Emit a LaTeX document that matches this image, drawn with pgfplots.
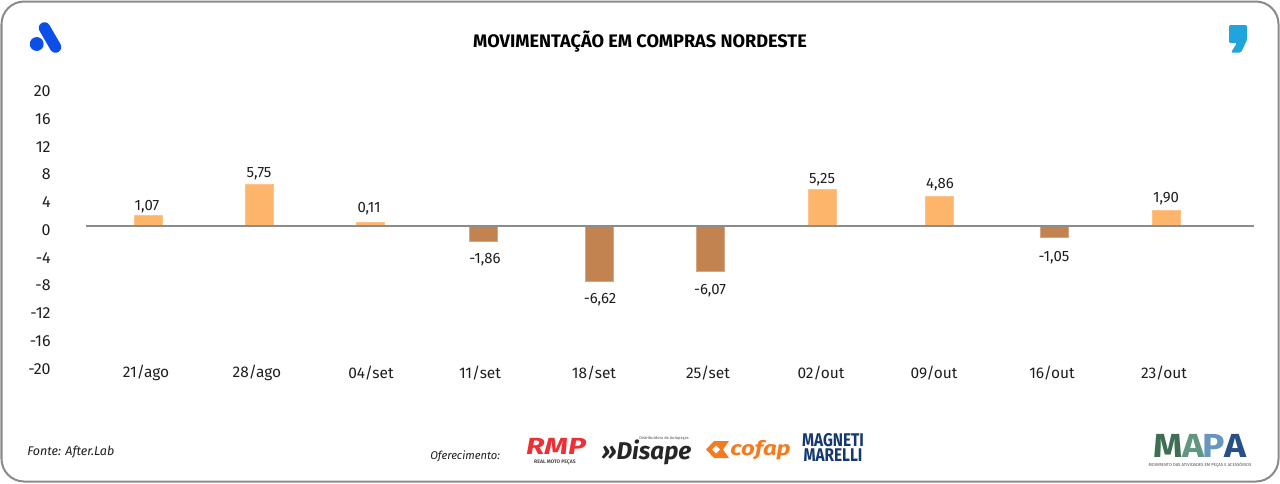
\documentclass[border=0pt]{standalone}
\usepackage{pgfplots}
\pgfplotsset{compat=1.18}
\usepackage{fontspec}
\setmainfont{Fira Sans}
\newfontfamily\heavy{Fira Sans}[UprightFont=* Bold,ItalicFont=* Bold Italic]
\definecolor{barpos}{HTML}{FDB46B}
\definecolor{barneg}{HTML}{C28350}
\definecolor{frame}{HTML}{8A8A8E}
\definecolor{zeroline}{HTML}{8C8C8C}
\definecolor{txt}{HTML}{1E1E1E}
\definecolor{rmpred}{HTML}{EE2F36}
\definecolor{cofap}{HTML}{F47B20}
\definecolor{marelli}{HTML}{14386F}
\definecolor{afterblue}{HTML}{0B4FE8}
\definecolor{quoteblue}{HTML}{1FA4DC}

\begin{document}
\begin{tikzpicture}[x=0.75pt,y=-0.75pt]
\useasboundingbox (0,0) rectangle (1280,483);
\draw[frame,line width=1.5pt,rounded corners=17pt] (1.5,1.5) rectangle (1278.5,481.5);

\begin{axis}[
  at={(64.5pt,-273.75pt)}, anchor=south west,
  scale only axis, width=876pt, height=208.5pt,
  xmin=86, xmax=1254, ymin=-20, ymax=20,
  axis x line=bottom, axis y line=left,
  x axis line style={draw=none,-}, y axis line style={draw=none,-},
  major tick length=0pt,
  xtick={146,257,371,480,594,708,821,934,1052,1164},
  xticklabels={21/ago,28/ago,04/set,11/set,18/set,25/set,02/out,09/out,16/out,23/out},
  ytick={-20,-16,...,20},
  /pgf/number format/assume math mode=true,
  xticklabel style={anchor=center,yshift=-6.2pt,font=\fontsize{11.6}{14}\selectfont,text=txt},
  yticklabel style={anchor=east,xshift=-23pt,yshift=-3pt,font=\fontsize{12}{14}\selectfont,text=txt},
  clip=false,
]
% bars (they do not follow their own labels)
\addplot[ybar,bar width=21pt,bar shift=0pt,fill=barpos,draw=barpos!80!white,line width=0.3pt]
  coordinates {(148,1.55) (259,6.05) (370,0.55) (822,5.3) (939,4.3) (1166,2.3)};
\addplot[ybar,bar width=21pt,bar shift=0pt,fill=barneg,draw=barneg!70!white,line width=0.3pt]
  coordinates {(483,-2.2) (599,-7.9) (710,-6.55) (1054,-1.6)};
\addplot[zeroline,line width=1.2pt,no marks] coordinates {(86,0) (1254,0)};
% value labels
\addplot[only marks,mark=none,point meta=explicit symbolic,
  nodes near coords,
  nodes near coords style={anchor=center,inner sep=0pt,font=\fontsize{11.2}{12}\selectfont,text=txt}]
  table[meta=lab] {
  x y lab
  147 2.75 1,07
  259 7.5 5,75
  369 2.45 0,11
  485 -4.85 -1,86
  600 -10.55 -6,62
  710 -9.25 -6,07
  822 6.65 5,25
  940 5.9 4,86
  1054 -4.55 -1,05
  1166 3.95 1,90
};
\end{axis}

% title and footers
\node[text=black] at (640,41.8) {\fontsize{13.6}{15}\selectfont\bfseries MOVIMENTAÇÃO EM COMPRAS NORDESTE};
\node[anchor=west,inner sep=0pt,text=txt] at (27,452) {\fontsize{9.4}{11}\selectfont\itshape Fonte: After.Lab};
\node[anchor=west,inner sep=0pt,text=txt] at (430,456) {\fontsize{8.4}{11}\selectfont\itshape Oferecimento:};

% After logo
\draw[afterblue,line width=8.6pt,line cap=round] (44.5,28) -- (55.5,47);
\fill[afterblue] (36.7,44) circle (5.2pt);
% quote logo
\fill[quoteblue,rounded corners=1pt]
  (1229,25) -- (1247,25) -- (1247,40) -- (1241,52.5) -- (1231,52.5) -- (1237,43) -- (1229,43) -- cycle;

% sponsors
\node[inner sep=0pt,text=rmpred,xscale=1.3] at (556,446) {\fontsize{17.5}{18}\selectfont\heavy\itshape RMP};
\node[inner sep=0pt,text=black!70] at (555,462) {\fontsize{3.8}{4}\selectfont\bfseries REAL MOTO PEÇAS};
\node[inner sep=0pt,text=black!85] at (646.5,452) {\fontsize{18.2}{19}\selectfont\heavy\itshape »Disape};
\node[inner sep=0pt,text=black!70] at (664,438) {\fontsize{3}{3}\selectfont Distribuidora de Autopeças};
\fill[cofap] (706,449.5) -- (714,441) -- (729,441) -- (723,449.5) -- (729,458) -- (714,458) -- cycle;
\fill[white] (712,449.5) -- (716,445.5) -- (720,449.5) -- (716,453.5) -- cycle;
\node[inner sep=0pt,text=cofap,xscale=1.2] at (760.5,450) {\fontsize{15}{15}\selectfont\heavy\itshape cofap};
\node[inner sep=0pt,text=marelli,yscale=1.2] at (833,440.5) {\fontsize{11.5}{12}\selectfont\heavy MAGNETI};
\node[inner sep=0pt,text=marelli,yscale=1.2] at (833,455.5) {\fontsize{11.5}{12}\selectfont\heavy MARELLI};
\node[inner sep=0pt,text={rgb,255:red,63;green,110;blue,84},xscale=1.12] at (1168,446) {\fontsize{25}{25}\selectfont\heavy M};
\node[inner sep=0pt,text={rgb,255:red,96;green,150;blue,130},xscale=1.12] at (1193,446) {\fontsize{25}{25}\selectfont\heavy A};
\node[inner sep=0pt,text={rgb,255:red,105;green,150;blue,190},xscale=1.12] at (1214,446) {\fontsize{25}{25}\selectfont\heavy P};
\node[inner sep=0pt,text={rgb,255:red,40;green,80;blue,135},xscale=1.12] at (1235,446) {\fontsize{25}{25}\selectfont\heavy A};
\node[inner sep=0pt,text=black!70] at (1200,465.5) {\fontsize{3.2}{4}\selectfont MOVIMENTO DAS ATIVIDADES EM PEÇAS E ACESSÓRIOS};
\end{tikzpicture}
\end{document}
